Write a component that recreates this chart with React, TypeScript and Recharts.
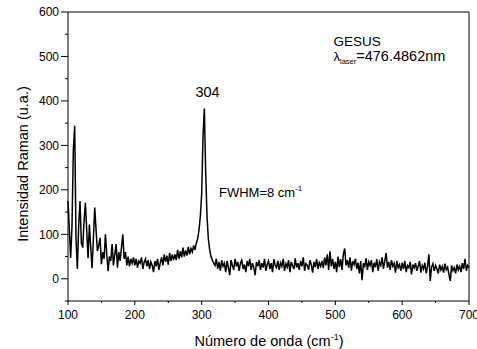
import { LineChart, Line, XAxis, YAxis, ReferenceLine } from "recharts";

// Raman spectrum sampled every 2 cm-1 starting at 100 cm-1
const startWavenumber = 100;
const stepWavenumber = 2;
const intensity = [
  175, 110, 47, 120, 290, 344, 90, 22, 120, 175,
  80, 70, 130, 171, 110, 46, 122, 70, 24, 90,
  160, 110, 62, 75, 92, 33, 60, 45, 100, 55,
  17, 50, 40, 78, 30, 55, 78, 25, 60, 40,
  70, 100, 45, 60, 30, 50, 28, 45, 35, 48,
  30, 45, 25, 40, 35, 48, 22, 38, 45, 28,
  42, 22, 38, 30, 15, 40, 28, 45, 20, 35,
  48, 30, 55, 38, 52, 32, 58, 40, 55, 42,
  55, 42, 65, 45, 62, 48, 70, 50, 64, 52,
  72, 55, 68, 60, 75, 65, 80, 90, 110, 140,
  190, 320, 383, 240, 140, 90, 65, 50, 42, 35,
  30, 45, 22, 38, 18, 42, 28, 35, 15, 40,
  25, 8, 42, 30, 20, 45, 28, 38, 18, 35,
  42, 22, 32, 15, 40, 28, 45, 20, 35, 25,
  8, 38, 28, 42, 20, 35, 25, 45, 18, 32,
  40, 22, 35, 15, 44, 30, 25, 40, 20, 36,
  28, 45, 18, 34, 26, 42, 15, 38, 30, 22,
  46, 25, 35, 20, 40, 28, 48, 18, 34, 30,
  20, 42, 32, 14, 38, 26, 44, 22, 36, 28,
  40, 24, 48, 30, 55, 20, 62, 28, 45, 22,
  38, 15, 50, 26, 44, 20, 55, 68, 30, 42,
  25, 48, 18, 40, 32, 45, 22, 36, 12, 40,
  -3, 35, 28, 46, 20, 38, 30, 42, 15, 36,
  26, 44, 18, 38, 30, 48, 22, 40, 58, 25,
  38, 20, 42, 28, 35, 14, 40, 25, 32, 18,
  36, 22, 40, 15, 30, 25, 38, 10, 32, 24,
  35, 18, 28, 40, 14, 30, 22, 36, 12, 28,
  55, -5, 26, 34, 18, 30, 22, 12, 32, 20,
  28, 14, 34, 20, 26, 10, -5, 30, 18, 25,
  12, 32, 20, 28, 15, 35, 22, 45, 18, 30,
  25,
];

const xTicks = [100, 150, 200, 250, 300, 350, 400, 450, 500, 550, 600, 650, 700];
const xLabelTicks = [100, 200, 300, 400, 500, 600, 700];
const yTicks = [-50, 0, 50, 100, 150, 200, 250, 300, 350, 400, 450, 500, 550, 600];
const yLabelTicks = [0, 100, 200, 300, 400, 500, 600];

const data = intensity.map((v, i) => ({ x: startWavenumber + i * stepWavenumber, y: v }));

const font = "'Liberation Sans', Arial, sans-serif";

function XTick(props: any) {
  const { x, y, payload } = props;
  const major = xLabelTicks.includes(payload.value);
  return (
    <g>
      <line x1={x} x2={x} y1={y} y2={y + (major ? 4 : 2)} stroke="#000" />
      {major && (
        <text x={x} y={y + 18} textAnchor="middle" fontSize={12} fontFamily={font} fill="#000">
          {payload.value}
        </text>
      )}
    </g>
  );
}

function YTick(props: any) {
  const { x, y, payload } = props;
  const major = yLabelTicks.includes(payload.value);
  return (
    <g>
      <line x1={x - (major ? 7 : 3)} x2={x} y1={y} y2={y} stroke="#000" />
      {major && (
        <text x={x - 9} y={y + 4.3} textAnchor="end" fontSize={12} fontFamily={font} fill="#000">
          {payload.value}
        </text>
      )}
    </g>
  );
}

export default function App() {
  return (
    <div style={{ position: "absolute", left: 0, top: 0, width: 477, height: 349, background: "#fff" }}>
      <LineChart width={477} height={349} data={data} margin={{ top: 12, right: 8, bottom: 0, left: 8 }}>
        <XAxis
          dataKey="x"
          type="number"
          domain={[100, 700]}
          ticks={xTicks}
          interval={0}
          tick={<XTick />}
          tickLine={false}
          tickSize={0}
          tickMargin={0}
          height={48}
          axisLine={{ stroke: "#000" }}
        />
        <YAxis
          type="number"
          domain={[-50, 600]}
          ticks={yTicks}
          interval={0}
          tick={<YTick />}
          tickLine={false}
          tickSize={0}
          tickMargin={0}
          width={60}
          axisLine={{ stroke: "#000" }}
        />
        <ReferenceLine y={600} stroke="#000" />
        <ReferenceLine x={700} stroke="#000" />
        <Line type="linear" dataKey="y" stroke="#000" strokeWidth={1.5} dot={false} isAnimationActive={false} />
      </LineChart>
      <svg
        width={477}
        height={349}
        style={{ position: "absolute", left: 0, top: 0, pointerEvents: "none" }}
        fontFamily={font}
        fill="#000"
      >
        <text transform="translate(28,164) rotate(-90)" textAnchor="middle" fontSize={14.5}>
          Intensidad Raman (u.a.)
        </text>
        <text x={269} y={346} textAnchor="middle" fontSize={14.5}>
          Número de onda (cm<tspan fontSize={9} dy={-6}>-1</tspan>
          <tspan dy={6}>)</tspan>
        </text>
        <text x={207.5} y={96.7} textAnchor="middle" fontSize={14.5}>
          304
        </text>
        <text x={333.5} y={46} fontSize={13.5}>
          GESUS
        </text>
        <text x={333.5} y={60.5} fontSize={13}>
          λ<tspan fontSize={7.5} dy={3}>laser</tspan>
          <tspan dy={-3} fontSize={14.5}>=476.4862nm</tspan>
        </text>
        <text x={219} y={197} fontSize={13}>
          FWHM=8 cm<tspan fontSize={8} dy={-6}>-1</tspan>
        </text>
      </svg>
    </div>
  );
}
